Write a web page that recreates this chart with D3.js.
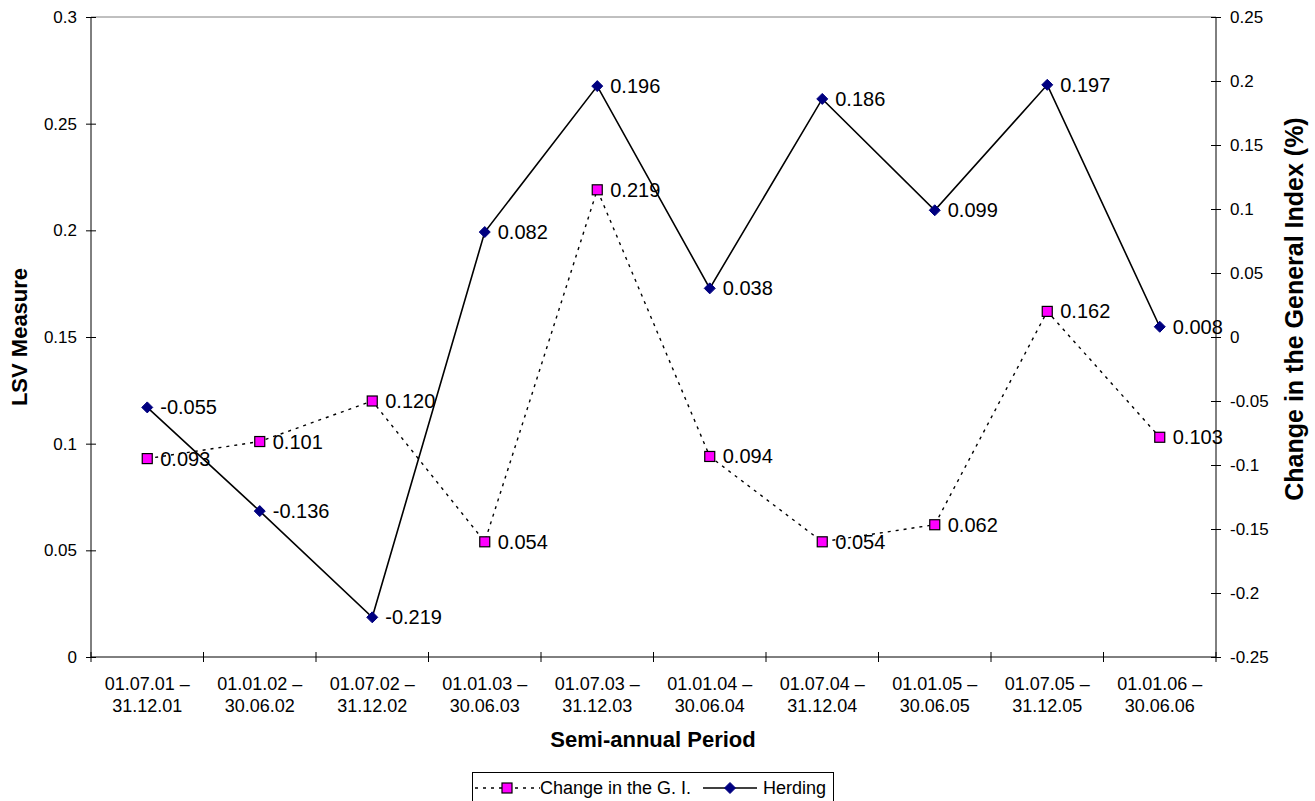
<!DOCTYPE html>
<html>
<head>
<meta charset="utf-8">
<script src="https://cdn.jsdelivr.net/npm/d3@7"></script>
<style>
  html, body { margin: 0; padding: 0; background: #fff; overflow: hidden; }
  svg { display: block; font-family: "Liberation Sans", Arial, sans-serif; }
</style>
</head>
<body>
<svg id="chart" width="1315" height="801"></svg>
<script>
// Semi-annual periods (two-line category labels)
const periods = [
  ["01.07.01 –", "31.12.01"],
  ["01.01.02 –", "30.06.02"],
  ["01.07.02 –", "31.12.02"],
  ["01.01.03 –", "30.06.03"],
  ["01.07.03 –", "31.12.03"],
  ["01.01.04 –", "30.06.04"],
  ["01.07.04 –", "31.12.04"],
  ["01.01.05 –", "30.06.05"],
  ["01.07.05 –", "31.12.05"],
  ["01.01.06 –", "30.06.06"]
];
// Series on the left axis
const changeGI = [0.093, 0.101, 0.120, 0.054, 0.219, 0.094, 0.054, 0.062, 0.162, 0.103];
// Series on the right axis
const herding = [-0.055, -0.136, -0.219, 0.082, 0.196, 0.038, 0.186, 0.099, 0.197, 0.008];

const leftTicks = [0, 0.05, 0.1, 0.15, 0.2, 0.25, 0.3];
const rightTicks = [-0.25, -0.2, -0.15, -0.1, -0.05, 0, 0.05, 0.1, 0.15, 0.2, 0.25];

const svg = d3.select("#chart");
const L = 91, R = 1216, T = 17, B = 657;

const x = d3.scaleBand().domain(d3.range(periods.length)).range([L, R]);
const yL = d3.scaleLinear().domain([0, 0.3]).range([B, T]);
const yR = d3.scaleLinear().domain([-0.25, 0.25]).range([B, T]);

// top frame line
svg.append("line").attr("x1", L).attr("x2", R).attr("y1", T).attr("y2", T)
  .attr("stroke", "#808080").attr("stroke-width", 1);

const fmt = d => d === 0 ? "0" : String(+d.toFixed(2));

// left and right value axes
const gL = svg.append("g").attr("transform", `translate(${L},0)`)
  .call(d3.axisLeft(yL).tickValues(leftTicks).tickSize(5).tickPadding(9).tickFormat(fmt));
const gR = svg.append("g").attr("transform", `translate(${R},0)`)
  .call(d3.axisRight(yR).tickValues(rightTicks).tickSize(5).tickPadding(9).tickFormat(fmt));
[gL, gR].forEach(g => {
  g.select(".domain").remove();
  g.selectAll(".tick line").attr("stroke", "#000").attr("x1", -5).attr("x2", 5);
  g.selectAll("text").attr("font-size", 17).attr("fill", "#000")
    .attr("font-family", "Liberation Sans, Arial, sans-serif");
});
svg.append("line").attr("x1", L).attr("x2", L).attr("y1", T).attr("y2", B).attr("stroke", "#000");
svg.append("line").attr("x1", R).attr("x2", R).attr("y1", T).attr("y2", B).attr("stroke", "#000");

// category axis, ticks at band boundaries
svg.append("line").attr("x1", L).attr("x2", R).attr("y1", B).attr("y2", B).attr("stroke", "#000");
const bounds = d3.range(periods.length + 1).map(i => L + i * x.step());
svg.append("g").selectAll("line").data(bounds).join("line")
  .attr("x1", d => d).attr("x2", d => d).attr("y1", B - 5).attr("y2", B + 5)
  .attr("stroke", "#000");
const cx = i => x(i) + x.bandwidth() / 2;
const catG = svg.append("g").selectAll("text").data(periods).join("text")
  .attr("x", (d, i) => cx(i))
  .attr("y", 690)
  .attr("text-anchor", "middle").attr("font-size", 18).attr("fill", "#000");
catG.append("tspan").attr("x", (d, i) => cx(i)).text(d => d[0]);
catG.append("tspan").attr("x", (d, i) => cx(i)).attr("dy", 22).text(d => d[1]);

// axis titles
svg.append("text").attr("x", 653).attr("y", 747).attr("text-anchor", "middle")
  .attr("font-size", 22).attr("font-weight", "bold").text("Semi-annual Period");
svg.append("text").attr("transform", `translate(27,${(T + B) / 2}) rotate(-90)`)
  .attr("text-anchor", "middle").attr("font-size", 22).attr("font-weight", "bold").text("LSV Measure");
svg.append("text").attr("transform", `translate(1303,309) rotate(-90)`)
  .attr("text-anchor", "middle").attr("font-size", 25).attr("font-weight", "bold")
  .text("Change in the General Index (%)");

// dashed series (left axis)
svg.append("path").datum(changeGI)
  .attr("d", d3.line().x((d, i) => cx(i)).y(d => yL(d)))
  .attr("fill", "none").attr("stroke", "#000").attr("stroke-width", 1.4)
  .attr("stroke-dasharray", "3,5");
// solid series (right axis)
svg.append("path").datum(herding)
  .attr("d", d3.line().x((d, i) => cx(i)).y(d => yR(d)))
  .attr("fill", "none").attr("stroke", "#000").attr("stroke-width", 1.6);

// square markers
svg.append("g").selectAll("rect").data(changeGI).join("rect")
  .attr("x", (d, i) => cx(i) - 5).attr("y", d => yL(d) - 5)
  .attr("width", 10).attr("height", 10)
  .attr("fill", "#ff00ff").attr("stroke", "#000").attr("stroke-width", 1.2);
// diamond markers
const diamond = "M0,-5.5L5.5,0L0,5.5L-5.5,0Z";
svg.append("g").selectAll("path").data(herding).join("path")
  .attr("d", diamond)
  .attr("transform", (d, i) => `translate(${cx(i)},${yR(d)})`)
  .attr("fill", "#000080").attr("stroke", "#000080");

// value labels
svg.append("g").selectAll("text").data(changeGI).join("text")
  .attr("x", (d, i) => cx(i) + 13).attr("y", d => yL(d) + 7)
  .attr("font-size", 20).attr("fill", "#000").text(d => d.toFixed(3));
svg.append("g").selectAll("text").data(herding).join("text")
  .attr("x", (d, i) => cx(i) + 13).attr("y", d => yR(d) + 7)
  .attr("font-size", 20).attr("fill", "#000").text(d => d.toFixed(3));

// legend
const lg = svg.append("g");
lg.append("rect").attr("x", 472.5).attr("y", 772.5).attr("width", 361).attr("height", 40)
  .attr("fill", "#fff").attr("stroke", "#000");
lg.append("line").attr("x1", 475).attr("x2", 540).attr("y1", 788).attr("y2", 788)
  .attr("stroke", "#000").attr("stroke-width", 1.4).attr("stroke-dasharray", "3,5");
lg.append("rect").attr("x", 502).attr("y", 783).attr("width", 10).attr("height", 10)
  .attr("fill", "#ff00ff").attr("stroke", "#000").attr("stroke-width", 1.2);
lg.append("text").attr("x", 540).attr("y", 794).attr("font-size", 18).text("Change in the G. I.");
lg.append("line").attr("x1", 703).attr("x2", 757).attr("y1", 788).attr("y2", 788)
  .attr("stroke", "#000").attr("stroke-width", 1.6);
lg.append("path").attr("d", diamond).attr("transform", "translate(730,788)")
  .attr("fill", "#000080").attr("stroke", "#000080");
lg.append("text").attr("x", 763).attr("y", 794).attr("font-size", 18).text("Herding");
</script>
</body>
</html>
